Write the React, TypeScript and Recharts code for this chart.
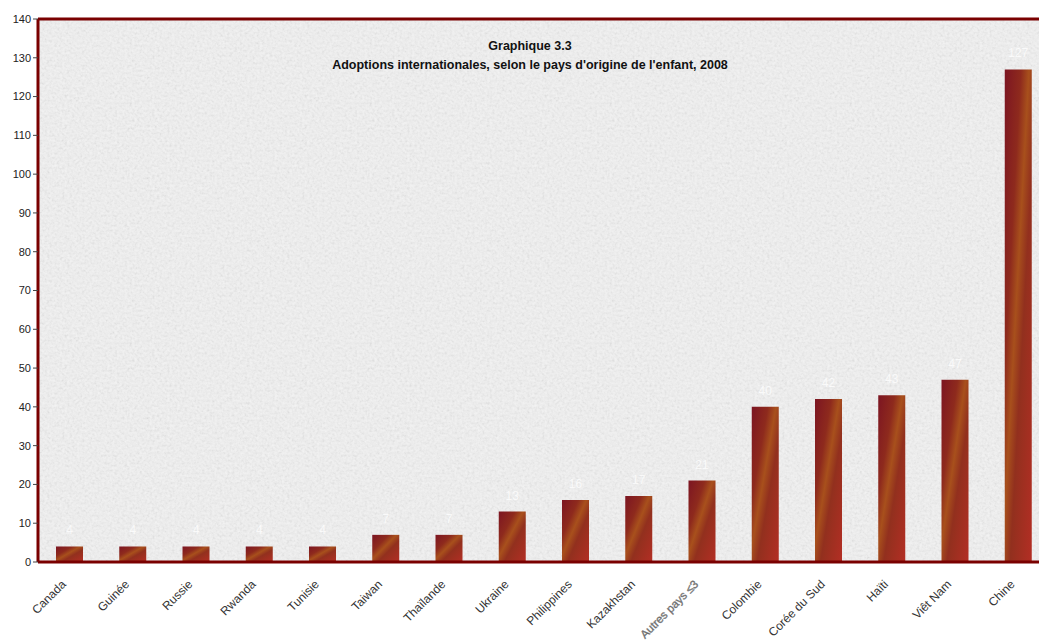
import React from "react";
import { BarChart, Bar, XAxis, YAxis, CartesianGrid, ReferenceLine, LabelList } from "recharts";

const categories = [
  "Canada", "Guinée", "Russie", "Rwanda", "Tunisie", "Taiwan", "Thaïlande", "Ukraine",
  "Philippines", "Kazakhstan", "Autres pays ≤3", "Colombie", "Corée du Sud", "Haïti", "Viêt Nam", "Chine",
];
const adoptions = [4, 4, 4, 4, 4, 7, 7, 13, 16, 17, 21, 40, 42, 43, 47, 127];
const yTicks = [0, 10, 20, 30, 40, 50, 60, 70, 80, 90, 100, 110, 120, 130, 140];
const titleLines = ["Graphique 3.3", "Adoptions internationales, selon le pays d'origine de l'enfant, 2008"];

const data = categories.map((c, i) => ({ pays: c, value: adoptions[i] }));

const XTick = (props: any) => {
  const { x, y, payload } = props;
  const special = payload.value.startsWith("Autres");
  return (
    <g transform={`translate(${x - 3},${y + 15}) rotate(-45)`}>
      <text
        x={0}
        y={0}
        textAnchor="end"
        fontFamily="Liberation Sans, Arial, sans-serif"
        fontSize={special ? 11.5 : 12}
        fill={special ? "#5a5a5a" : "#333"}
        stroke={special ? "#8a8a8a" : "none"}
        strokeWidth={special ? 0.4 : 0}
      >
        {payload.value}
      </text>
    </g>
  );
};

export default function App() {
  return (
    <div style={{ position: "absolute", left: 0, top: 0, width: 1039, height: 640, overflow: "hidden", background: "#fff" }}>
      <BarChart width={1050} height={640} data={data} margin={{ top: 19, right: 0, left: 0, bottom: 0 }} barSize={27}>
        <defs>
          <filter id="noise" x="0" y="0" width="100%" height="100%">
            <feTurbulence type="fractalNoise" baseFrequency="0.4" numOctaves="2" seed="3" result="t" />
            <feColorMatrix type="saturate" values="0" />
          </filter>
          <pattern id="tex" width="240" height="240" patternUnits="userSpaceOnUse">
            <rect width="240" height="240" fill="#f3f3f3" />
            <rect width="240" height="240" filter="url(#noise)" opacity="0.28" />
          </pattern>
          <linearGradient id="barGrad" x1="0" y1="0" x2="1" y2="1">
            <stop offset="0" stopColor="#7c1522" />
            <stop offset="0.3" stopColor="#8e2a1d" />
            <stop offset="0.45" stopColor="#a8501c" />
            <stop offset="0.6" stopColor="#92301e" />
            <stop offset="1" stopColor="#b32e24" />
          </linearGradient>
        </defs>
        <CartesianGrid fill="url(#tex)" fillOpacity={1} stroke="none" vertical={false} horizontal={false} />
        <XAxis
          dataKey="pays"
          interval={0}
          height={78}
          tick={<XTick />}
          tickLine={false}
          axisLine={{ stroke: "#7a0000", strokeWidth: 3 }}
        />
        <YAxis
          domain={[0, 140]}
          ticks={yTicks}
          width={38}
          tickSize={5}
          tickLine={{ stroke: "#444" }}
          axisLine={{ stroke: "#7a0000", strokeWidth: 3 }}
          tick={{ fontFamily: "Liberation Sans, Arial, sans-serif", fontSize: 11, fill: "#222" }}
          interval={0}
        />
        <ReferenceLine y={140} stroke="#7a0000" strokeWidth={3} />
        <Bar dataKey="value" fill="url(#barGrad)" isAnimationActive={false}>
          <LabelList dataKey="value" position="top" offset={12} fill="#ffffff" fillOpacity={0.75} fontSize={12} fontFamily="Liberation Sans, Arial, sans-serif" />
        </Bar>
        <text x={530} y={50} textAnchor="middle" fontFamily="Liberation Sans, Arial, sans-serif" fontWeight="bold" fontSize={12.5} fill="#111">
          {titleLines[0]}
        </text>
        <text x={530} y={69} textAnchor="middle" fontFamily="Liberation Sans, Arial, sans-serif" fontWeight="bold" fontSize={12.5} fill="#111">
          {titleLines[1]}
        </text>
      </BarChart>
    </div>
  );
}
